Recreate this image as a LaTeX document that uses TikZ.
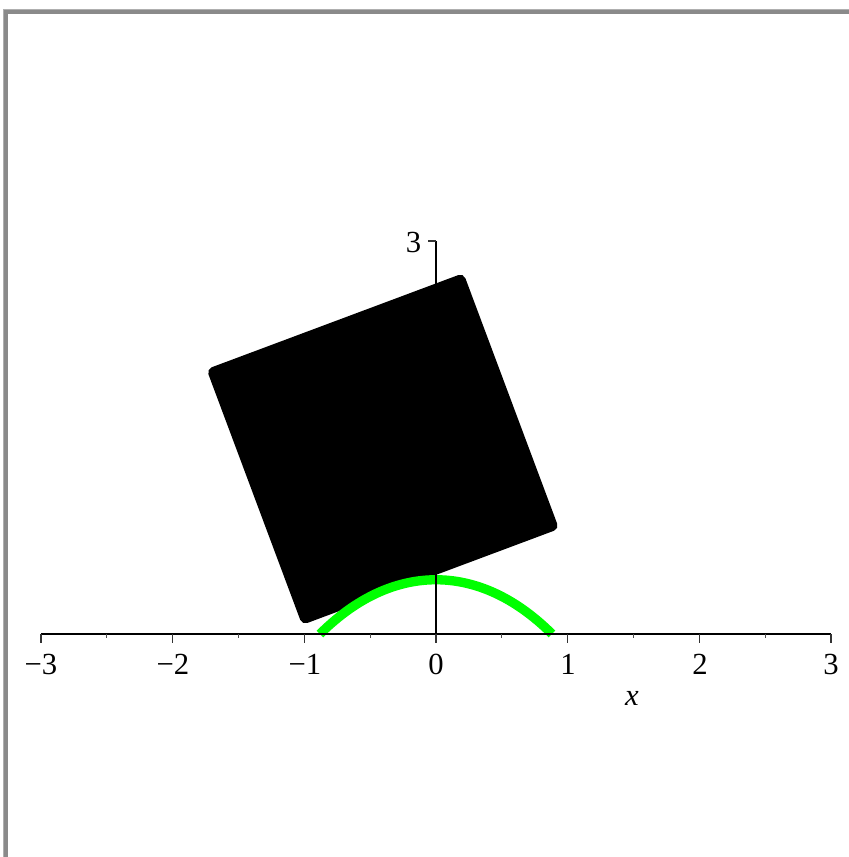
\documentclass[tikz,border=0pt]{standalone}
\usepackage{fontspec}
\setmainfont{Liberation Serif}
\begin{document}
\begin{tikzpicture}[x=0.75pt,y=-0.75pt,
  axisline/.style={line width=1.4pt,black},
  majortick/.style={line width=0.8pt,black!80},
  minortick/.style={line width=0.7pt,black!70},
  ticklabel/.style={font=\fontsize{23}{26}\selectfont,inner sep=0pt},
  curveline/.style={line width=7pt,color={rgb,255:red,0;green,255;blue,0}},
  blockshape/.style={fill=black,draw=black,line width=8.25pt,line join=round}]
\useasboundingbox (0,0) rectangle (849,857);
% frame
\draw[line width=3pt,color={rgb,255:red,138;green,138;blue,138}] (5.5,857) -- (5.5,11.5) -- (849,11.5);
\draw[line width=0.9pt,color={rgb,255:red,175;green,175;blue,175}] (3.6,857) -- (3.6,9.6) -- (849,9.6);
\begin{scope}[shift={(327pt,-475.5pt)},x=98.75pt,y=98.25pt]
  % rotated square
  \begin{scope}[shift={(-0.404,1.412)},rotate=20.5]
    \path[blockshape] (-1,-1) -- (1,-1) -- (1,1) -- (-1,1) -- cycle;
  \end{scope}
  % catenary road
  \draw[curveline] plot[domain=-0.8814:0.8814,samples=80,smooth] (\x,{1.41421-cosh(\x)});
  % axes
  \coordinate (xl) at (-3,0);
  \coordinate (xr) at (3,0);
  \coordinate (yb) at (0,0);
  \coordinate (yt) at (0,3);
  \draw[axisline] (xl) -- (xr);
  \draw[axisline] (yb) -- (yt);
  \foreach \k in {-3,...,3} \draw[majortick] (\k,0) -- ++(0,-6.5pt);
  \foreach \k in {-2.5,-1.5,-0.5,0.5,1.5,2.5} \draw[minortick] (\k,0) -- ++(0,-3.2pt);
  \draw[majortick] (yt) -- ++(-6pt,0);
\end{scope}
% labels
\node[ticklabel] (lm3) at (41,664) {−3};
\node[ticklabel] (lm2) at (173,664) {−2};
\node[ticklabel] (lm1) at (305,664) {−1};
\node[ticklabel] (l0) at (436,664) {0};
\node[ticklabel] (l1) at (568,664) {1};
\node[ticklabel] (l2) at (700,664) {2};
\node[ticklabel] (l3) at (831,664) {3};
\node[ticklabel] (ly3) at (413.5,242) {3};
\node[ticklabel] (lx) at (632,698) {\itshape x};
\end{tikzpicture}
\end{document}
